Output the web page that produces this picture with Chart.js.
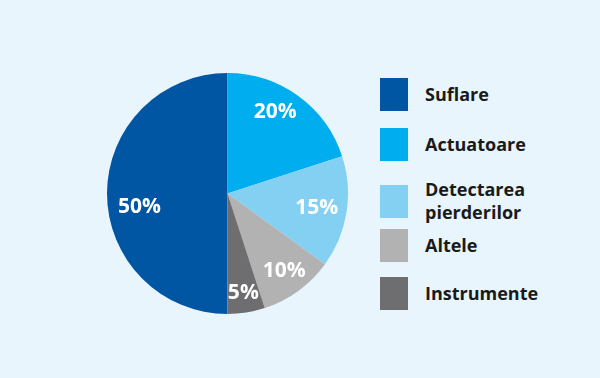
<!DOCTYPE html>
<html lang="ro">
<head>
<meta charset="UTF-8">
<title>Pie</title>
<script src="https://cdn.jsdelivr.net/npm/chart.js"></script>
<style>
    html, body { margin: 0; padding: 0; }
    body { width: 600px; height: 378px; background: #e8f5fc; position: relative; overflow: hidden;
           font-family: "Open Sans", "Noto Sans", sans-serif; }
    .pie { position: absolute; left: 107px; top: 73px; width: 241px; height: 241px; }
    .legenda { position: absolute; left: 380px; top: 0; }
    .item { position: absolute; left: 0; width: 220px; display: flex; align-items: center; }
    .caixa { width: 28px; height: 33px; flex: none; }
    .texto { margin-left: 17px; font-size: 18px; font-weight: 700; color: #1a1a1a; line-height: 23px; }
</style>
</head>
<body>
    <div class="pie"><canvas id="myCanvas" width="241" height="241"></canvas></div>
    <div class="legenda" id="legenda"></div>

<script>
    const categorias = ["Suflare", "Actuatoare", "Detectarea pierderilor", "Altele", "Instrumente"];
    const rotulos = ["Suflare", "Actuatoare", "Detectarea<br>pierderilor", "Altele", "Instrumente"];
    const valores = [50, 20, 15, 10, 5];
    const cores = ["#0056a3", "#00aeef", "#84d0f3", "#b2b2b2", "#6e6e70"];

    // posicao dos rotulos dentro das fatias (fracao do raio e desvio em graus)
    const raioRotulo = [0.74, 0.78, 0.75, 0.8, 0.84];
    const desvioRotulo = [-9, -5.5, 0, 0, 0];
    const topoLegenda = [78, 128, 178, 229, 277];

    // legenda em html
    let legenda = document.getElementById("legenda");
    for (let i = 0; i < categorias.length; i++) {
        legenda.innerHTML += `<div class="item" style="top:${topoLegenda[i]}px">
            <div class="caixa" style="background:${cores[i]}"></div>
            <div class="texto">${rotulos[i]}</div></div>`;
    }

    const rotulosPlugin = {
        id: "rotulos",
        afterDatasetsDraw(chart) {
            const ctx = chart.ctx;
            const meta = chart.getDatasetMeta(0);
            ctx.save();
            ctx.fillStyle = "#ffffff";
            ctx.font = "700 21px 'Open Sans', 'Noto Sans', sans-serif";
            ctx.textAlign = "center";
            ctx.textBaseline = "middle";
            meta.data.forEach(function (arc, i) {
                const p = arc.getProps(["x", "y", "startAngle", "endAngle", "outerRadius"], true);
                const meio = (p.startAngle + p.endAngle) / 2 + desvioRotulo[i] * Math.PI / 180;
                const r = p.outerRadius * raioRotulo[i];
                ctx.fillText(valores[i] + "%", p.x + Math.cos(meio) * r, p.y + Math.sin(meio) * r);
            });
            ctx.restore();
        }
    };

    new Chart(document.getElementById("myCanvas"), {
        type: "pie",
        data: {
            labels: categorias,
            datasets: [{
                data: valores,
                backgroundColor: cores,
                borderWidth: 0
            }]
        },
        options: {
            responsive: false,
            animation: false,
            rotation: 180,
            plugins: {
                legend: { display: false },
                tooltip: { enabled: false }
            }
        },
        plugins: [rotulosPlugin]
    });
</script>
</body>
</html>
